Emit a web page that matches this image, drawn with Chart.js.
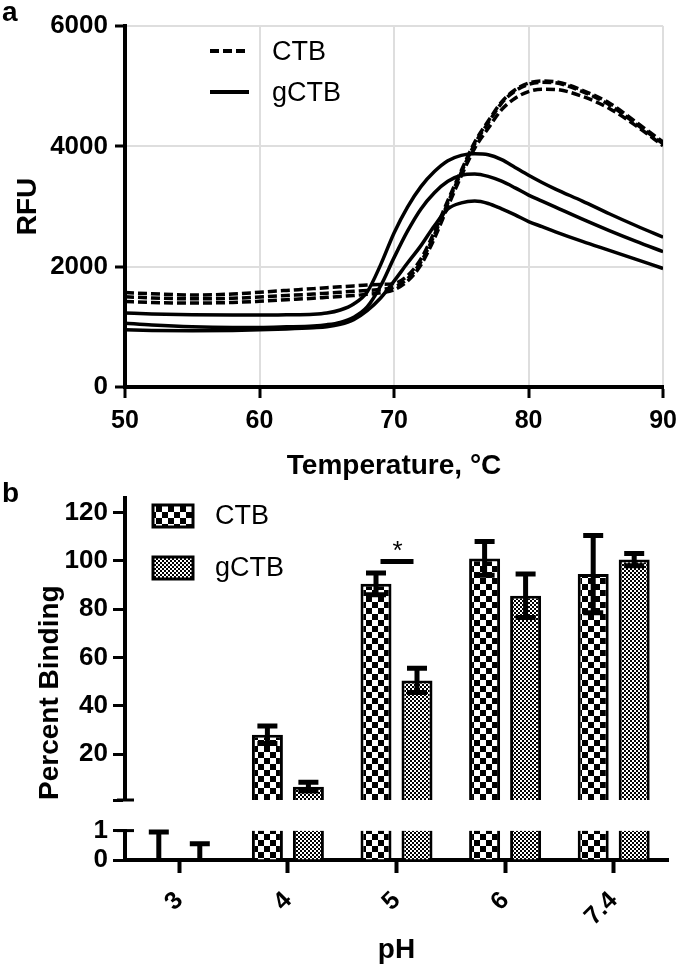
<!DOCTYPE html>
<html>
<head>
<meta charset="utf-8">
<script src="https://cdn.jsdelivr.net/npm/chart.js@4.4.1/dist/chart.umd.min.js"></script>
<style>
  body { margin: 0; background: #fff; width: 685px; height: 968px; position: relative; overflow: hidden; }
  canvas { position: absolute; left: 0; }
  .panel { position: absolute; left: 2px; font: bold 28px/1 'Liberation Sans', Arial, sans-serif; }
</style>
</head>
<body>
<canvas id="meltChart" width="685" height="485" style="top:0"></canvas>
<canvas id="bindBottom" width="685" height="158" style="top:810px"></canvas>
<canvas id="bindTop" width="685" height="352" style="top:470px"></canvas>
<div class="panel" style="top:-2px">a</div>
<div class="panel" style="top:479px">b</div>
<script>
// panel a: thermal melt curves (3 runs each)
var temps = [50, 52, 55, 58, 60, 62, 64, 65, 66, 67, 68, 69, 70, 71, 72, 73, 74, 75, 76, 77, 78, 79, 80, 81, 82, 84, 86, 88, 90];
var ctbRun1 = [1570, 1550, 1530, 1545, 1575, 1605, 1635, 1650, 1665, 1680, 1695, 1705, 1720, 1850, 2130, 2580, 3100, 3600, 4070, 4420, 4740, 4940, 5050, 5085, 5075, 4930, 4720, 4400, 4070];
var ctbRun2 = [1500, 1480, 1465, 1475, 1495, 1520, 1545, 1560, 1575, 1590, 1605, 1620, 1660, 1800, 2080, 2530, 3060, 3570, 4040, 4390, 4720, 4920, 5030, 5065, 5055, 4910, 4690, 4370, 4040];
var ctbRun3 = [1420, 1405, 1395, 1405, 1425, 1450, 1475, 1490, 1505, 1520, 1540, 1565, 1615, 1760, 2030, 2470, 3000, 3510, 3970, 4300, 4610, 4800, 4910, 4950, 4945, 4830, 4630, 4340, 4010];
var gctbRun1 = [1230, 1215, 1200, 1195, 1195, 1200, 1210, 1230, 1280, 1380, 1580, 2030, 2560, 2990, 3330, 3580, 3760, 3850, 3875, 3860, 3780, 3650, 3520, 3400, 3290, 3090, 2880, 2680, 2490];
var gctbRun2 = [1060, 1030, 1000, 990, 990, 1000, 1015, 1035, 1075, 1160, 1330, 1680, 2150, 2590, 2960, 3230, 3420, 3520, 3540, 3500, 3420, 3310, 3190, 3090, 2990, 2790, 2600, 2420, 2250];
var gctbRun3 = [950, 940, 935, 940, 950, 965, 985, 1000, 1040, 1120, 1270, 1480, 1760, 2060, 2350, 2680, 2960, 3060, 3090, 3050, 2960, 2860, 2750, 2665, 2580, 2420, 2270, 2120, 1970];

// panel b: percent binding vs pH
var phLabels = ['3', '4', '5', '6', '7.4'];
var ctbBinding = [0, 28, 90.5, 101, 94.5];
var ctbError = [0.95, 3.6, 4.5, 7, 16];
var gctbBinding = [0, 6.5, 50.5, 85.5, 100.5];
var gctbError = [0.55, 1.8, 5, 9, 2.5];
var upperTicks = [1, 20, 40, 60, 80, 100, 120];
var lowerTicks = [0, 1];
var breakValue = 1;

var FONT = "'Liberation Sans', Arial, sans-serif";
Chart.defaults.font.family = FONT;
Chart.defaults.color = '#000';
Chart.defaults.animation = false;

function plain(v) { return String(v); }

function curve(values, dashed) {
    return {
        data: temps.map((t, i) => ({ x: t, y: values[i] })),
        borderColor: '#000',
        borderWidth: 3.5,
        borderDash: dashed ? [9, 4] : [],
        pointRadius: 0,
        fill: false,
        cubicInterpolationMode: 'monotone'
    };
}

// legend for panel a, drawn inside the plot
var meltLegend = {
    id: 'meltLegend',
    afterDraw(chart) {
        var ctx = chart.ctx, a = chart.chartArea;
        var rows = [['CTB', [9, 4], 25], ['gCTB', [], 66]];
        ctx.save();
        ctx.strokeStyle = '#000';
        ctx.lineWidth = 4;
        ctx.font = '27px ' + FONT;
        ctx.textBaseline = 'middle';
        ctx.fillStyle = '#000';
        rows.forEach(function (r) {
            ctx.setLineDash(r[1]);
            ctx.beginPath();
            ctx.moveTo(a.left + 85, a.top + r[2]);
            ctx.lineTo(a.left + 124, a.top + r[2]);
            ctx.stroke();
            ctx.fillText(r[0], a.left + 147, a.top + r[2] + 2);
        });
        ctx.restore();
    }
};

new Chart(document.getElementById('meltChart').getContext('2d'), {
    type: 'line',
    data: {
        datasets: [
            curve(ctbRun1, true), curve(ctbRun2, true), curve(ctbRun3, true),
            curve(gctbRun1, false), curve(gctbRun2, false), curve(gctbRun3, false)
        ]
    },
    options: {
        responsive: false,
        events: [],
        layout: { padding: { top: 26, right: 16, left: 0, bottom: 0 } },
        plugins: { legend: { display: false }, tooltip: { enabled: false } },
        scales: {
            x: {
                type: 'linear', min: 50, max: 90,
                ticks: { stepSize: 10, padding: 8, callback: plain, font: { size: 25, weight: 'bold' } },
                grid: { color: '#dedede', lineWidth: 2, tickColor: '#000', tickWidth: 3, tickLength: 11 },
                border: { color: '#000', width: 4 },
                title: { display: true, text: 'Temperature, °C', font: { size: 28, weight: 'bold' }, padding: { bottom: 2 } },
                afterFit: function (s) { s.height = 98; }
            },
            y: {
                min: 0, max: 6000,
                ticks: { stepSize: 2000, padding: 7, callback: plain, font: { size: 26, weight: 'bold' } },
                grid: { color: '#dedede', lineWidth: 2, tickColor: '#000', tickWidth: 3, tickLength: 10 },
                border: { color: '#000', width: 4 },
                title: { display: true, text: 'RFU', font: { size: 28, weight: 'bold' }, padding: { top: 11 } },
                afterFit: function (s) { s.width = 125; }
            }
        }
    },
    plugins: [meltLegend]
});

// bar patterns
function checker(ctx, size) {
    var c = document.createElement('canvas');
    c.width = c.height = size * 2;
    var g = c.getContext('2d');
    g.fillStyle = '#fff';
    g.fillRect(0, 0, size * 2, size * 2);
    g.fillStyle = '#000';
    g.fillRect(0, 0, size, size);
    g.fillRect(size, size, size, size);
    return ctx.createPattern(c, 'repeat');
}

// mean +/- error whiskers, clipped to the segment
var errorBars = {
    id: 'errorBars',
    afterDatasetsDraw(chart) {
        var ctx = chart.ctx, a = chart.chartArea, y = chart.scales.y;
        var inRange = function (v) { return v >= y.min && v <= y.max; };
        ctx.save();
        ctx.beginPath();
        ctx.rect(a.left - 30, a.top - 3, a.width + 60, a.height + 3);
        ctx.clip();
        ctx.strokeStyle = '#000';
        ctx.lineWidth = 5;
        chart.data.datasets.forEach(function (ds, i) {
            chart.getDatasetMeta(i).data.forEach(function (bar, j) {
                var top = ds.means[j] + ds.errors[j], bottom = ds.means[j] - ds.errors[j];
                if (top < y.min || bottom > y.max) return;
                var hi = y.getPixelForValue(top), lo = y.getPixelForValue(bottom);
                ctx.beginPath();
                ctx.moveTo(bar.x, hi); ctx.lineTo(bar.x, lo);
                if (inRange(top)) { ctx.moveTo(bar.x - 10, hi); ctx.lineTo(bar.x + 10, hi); }
                if (inRange(bottom)) { ctx.moveTo(bar.x - 10, lo); ctx.lineTo(bar.x + 10, lo); }
                ctx.stroke();
            });
        });
        ctx.restore();
    }
};

// short caps where the y axis is broken
var axisBreak = {
    id: 'axisBreak',
    afterDraw(chart) {
        var ctx = chart.ctx, a = chart.chartArea, edge = chart.options.breakEdge;
        var yy = edge === 'bottom' ? a.bottom : a.top;
        ctx.save();
        ctx.strokeStyle = '#000';
        ctx.lineWidth = 3;
        ctx.beginPath();
        ctx.moveTo(a.left - 8, yy); ctx.lineTo(a.left + 9, yy);
        ctx.stroke();
        ctx.restore();
    }
};

// significance mark between CTB and gCTB at pH 5, plus legend
var bindDecor = {
    id: 'bindDecor',
    afterDraw(chart) {
        var ctx = chart.ctx, a = chart.chartArea;
        var cx = chart.scales.x.getPixelForValue(2);
        var sy = chart.scales.y.getPixelForValue(99.7);
        ctx.save();
        ctx.strokeStyle = '#000';
        ctx.fillStyle = '#000';
        ctx.lineWidth = 5;
        ctx.beginPath();
        ctx.moveTo(cx - 16, sy); ctx.lineTo(cx + 17, sy);
        ctx.stroke();
        ctx.font = '26px ' + FONT;
        ctx.textAlign = 'center';
        ctx.textBaseline = 'middle';
        ctx.fillText('*', cx + 1, sy - 10);

        var items = [['CTB', chart.data.datasets[0].backgroundColor, 7],
                     ['gCTB', chart.data.datasets[1].backgroundColor, 59]];
        ctx.lineWidth = 3;
        ctx.font = '27px ' + FONT;
        ctx.textAlign = 'left';
        items.forEach(function (it) {
            var bx = a.left + 28, by = a.top + it[2];
            ctx.fillStyle = it[1];
            ctx.fillRect(bx, by, 40, 22);
            ctx.strokeRect(bx, by, 40, 22);
            ctx.fillStyle = '#000';
            ctx.fillText(it[0], a.left + 90, by + 12);
        });
        ctx.restore();
    }
};

function bindingChart(id, lower) {
    var ctx = document.getElementById(id).getContext('2d');
    var coarse = checker(ctx, 6), fine = checker(ctx, 2);
    var segment = function (v) { return lower ? Math.min(v, breakValue) : (v > breakValue ? v : null); };
    var edges = function (c) {
        return lower && c.raw >= breakValue ? { left: 3, right: 3, top: 0, bottom: 0 } : 3;
    };
    return new Chart(ctx, {
        type: 'bar',
        data: {
            labels: phLabels,
            datasets: [
                { label: 'CTB', data: ctbBinding.map(segment), means: ctbBinding, errors: ctbError,
                  backgroundColor: coarse, borderColor: '#000', borderWidth: edges, borderSkipped: 'start', clip: 0 },
                { label: 'gCTB', data: gctbBinding.map(segment), means: gctbBinding, errors: gctbError,
                  backgroundColor: fine, borderColor: '#000', borderWidth: edges, borderSkipped: 'start', clip: 0 }
            ]
        },
        options: {
            responsive: false,
            events: [],
            breakEdge: lower ? 'top' : 'bottom',
            categoryPercentage: 0.755,
            barPercentage: 0.756,
            layout: { padding: lower ? { top: 17, right: 17, left: 0, bottom: 0 } : { top: 28, right: 17, left: 0, bottom: 22 } },
            plugins: { legend: { display: false }, tooltip: { enabled: false } },
            scales: {
                x: {
                    display: lower,
                    ticks: { autoSkip: false, minRotation: 45, maxRotation: 45, padding: 13, font: { size: 25, weight: 'bold' } },
                    grid: { offset: false, drawOnChartArea: false, tickColor: '#000', tickWidth: 4, tickLength: 13 },
                    border: { color: '#000', width: 4 },
                    title: { display: true, text: 'pH', font: { size: 28, weight: 'bold' }, padding: { bottom: 1 } },
                    afterFit: function (s) { if (lower) s.height = 108; }
                },
                y: {
                    min: lower ? 0 : breakValue,
                    max: lower ? breakValue : 126,
                    stacked: false,
                    afterBuildTicks: function (s) {
                        s.ticks = (lower ? lowerTicks : upperTicks).map(function (v) { return { value: v }; });
                    },
                    ticks: {
                        autoSkip: false,
                        padding: 5,
                        font: { size: 26, weight: 'bold' },
                        callback: function (v) { return (!lower && v === breakValue) ? '' : String(v); }
                    },
                    grid: { drawOnChartArea: false, tickColor: '#000', tickWidth: 3, tickLength: 12 },
                    border: { color: '#000', width: 4 },
                    title: { display: !lower, text: 'Percent Binding', align: 'start', font: { size: 28, weight: 'bold' }, padding: { top: 33 } },
                    afterFit: function (s) { s.width = 125; }
                }
            }
        },
        plugins: lower ? [errorBars, axisBreak] : [errorBars, axisBreak, bindDecor]
    });
}

bindingChart('bindTop', false);
bindingChart('bindBottom', true);
</script>
</body>
</html>
